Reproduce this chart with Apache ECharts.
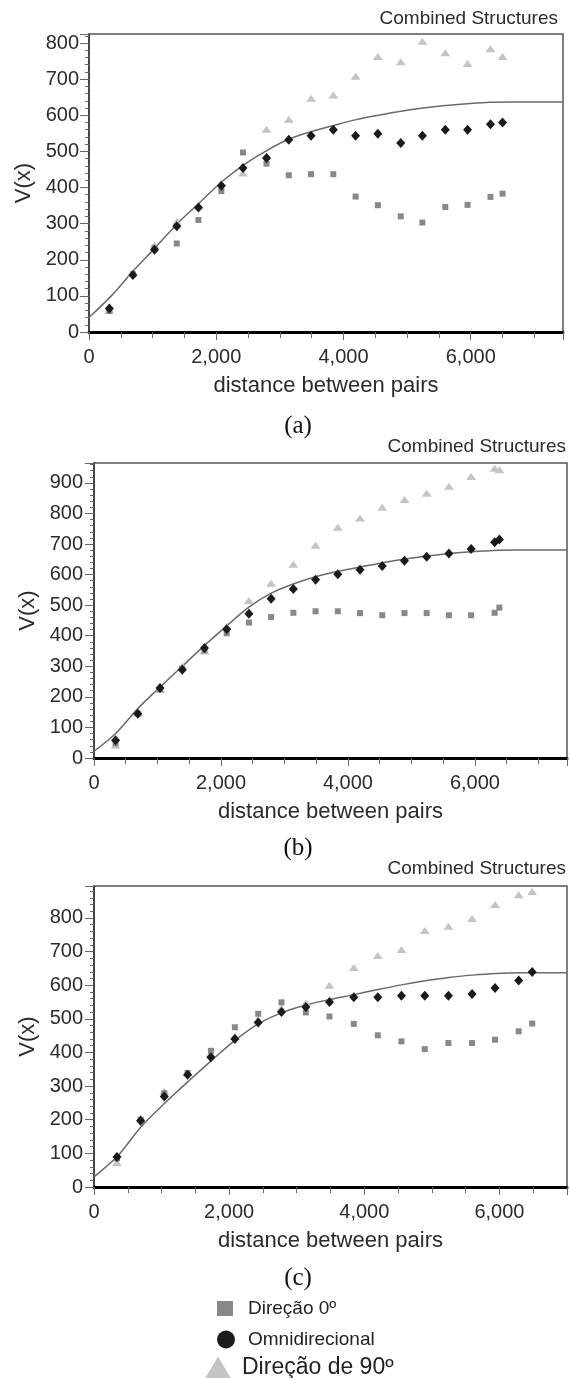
<!DOCTYPE html>
<html>
<head>
<meta charset="utf-8">
<title>Combined Structures</title>
<script src="https://cdn.jsdelivr.net/npm/echarts@6/dist/echarts.min.js"></script>
<style>
  html, body { margin: 0; padding: 0; background: #fff; }
  #chart { width: 570px; height: 1378px; }
</style>
</head>
<body>
<div id="chart"></div>
<script>
const lagsA = [320, 690, 1030, 1380, 1720, 2080, 2420, 2790, 3140, 3490, 3840, 4190, 4540, 4900, 5240, 5600, 5950, 6310, 6500]
const dir0A = [58, 160, 232, 245, 310, 390, 497, 466, 434, 437, 437, 375, 351, 320, 303, 346, 352, 374, 383]
const omniA = [65, 158, 228, 293, 345, 405, 454, 482, 532, 543, 560, 543, 549, 523, 543, 560, 560, 575, 580]
const dir90A = [60, 162, 240, 305, 348, 412, 440, 561, 589, 647, 656, 708, 763, 748, 805, 773, 743, 784, 763]
const modelXA = [0, 350, 700, 1050, 1400, 1750, 2100, 2450, 2800, 3150, 3500, 3850, 4200, 4550, 4900, 5250, 5600, 5950, 6300, 6650, 7450]
const modelA = [40, 100, 170, 235, 302, 360, 418, 465, 503, 535, 555, 572, 588, 600, 611, 620, 627, 632, 636, 637, 637]

// (b)
const lagsB = [340, 690, 1040, 1390, 1740, 2090, 2440, 2790, 3140, 3490, 3840, 4190, 4540, 4890, 5240, 5590, 5940, 6310, 6385]
const dir0B = [48, 145, 225, 292, 352, 408, 443, 461, 475, 480, 480, 474, 467, 474, 474, 467, 467, 475, 492]
const omniB = [58, 145, 229, 289, 360, 421, 472, 521, 553, 583, 601, 616, 628, 645, 658, 669, 684, 706, 715]
const dir90B = [42, 148, 224, 300, 350, 430, 515, 572, 634, 696, 755, 785, 820, 846, 866, 889, 921, 948, 943]
const modelXB = [0, 350, 700, 1050, 1400, 1750, 2100, 2450, 2800, 3150, 3500, 3850, 4200, 4550, 4900, 5250, 5600, 5950, 6300, 6650, 7450]
const modelB = [22, 82, 164, 234, 302, 370, 434, 495, 540, 570, 594, 611, 625, 639, 651, 661, 669, 675, 679, 680, 680]

// (c)
const lagsC = [340, 690, 1040, 1385, 1730, 2085, 2430, 2775, 3135, 3485, 3845, 4200, 4550, 4895, 5245, 5595, 5935, 6285, 6485]
const dir0C = [85, 200, 279, 339, 405, 475, 515, 549, 519, 507, 485, 451, 433, 410, 428, 428, 438, 463, 486]
const omniC = [89, 197, 269, 334, 386, 440, 489, 520, 535, 550, 564, 564, 569, 569, 569, 574, 592, 614, 639]
const dir90C = [72, 205, 285, 340, 395, 448, 497, 532, 547, 600, 653, 688, 706, 763, 775, 798, 840, 869, 879]
const modelXC = [0, 350, 700, 1050, 1400, 1750, 2100, 2450, 2800, 3150, 3500, 3850, 4200, 4550, 4900, 5250, 5600, 5950, 6300, 7000]
const modelC = [30, 92, 180, 250, 315, 378, 438, 487, 520, 542, 558, 572, 587, 601, 613, 623, 630, 635, 637, 637]

// legend / series names
const seriesNames = ['Direção 0º', 'Omnidirecional', 'Direção de 90º']

const zip = (xs, ys) => xs.map((x, i) => [x, ys[i]])

const panels = [
  { tag: '(a)', lags: lagsA, dir0: dir0A, omni: omniA, dir90: dir90A, modelX: modelXA, model: modelA, xMax: 7450, yMax: 825 },
  { tag: '(b)', lags: lagsB, dir0: dir0B, omni: omniB, dir90: dir90B, modelX: modelXB, model: modelB, xMax: 7450, yMax: 965 },
  { tag: '(c)', lags: lagsC, dir0: dir0C, omni: omniC, dir90: dir90C, modelX: modelXC, model: modelC, xMax: 7000, yMax: 895 }
]

// layout of each panel on the page
const layout = [
  { left: 89, top: 34, width: 474, height: 298, titleTop: 9, titleRight: 12, tagY: 426, yGap: 48, yMargin: 10 },
  { left: 94, top: 463, width: 474, height: 295, titleTop: 437, titleRight: 4, tagY: 848, yGap: 52, yMargin: 11 },
  { left: 94, top: 886, width: 474, height: 301, titleTop: 859, titleRight: 4, tagY: 1278, yGap: 52, yMargin: 11 }
]

const font = 'Liberation Sans'
const textColor = '#2b2b2b'

const grid = []
const xAxis = []
const yAxis = []
const series = []
const title = []
const graphic = []

panels.forEach((p, i) => {
  const l = layout[i]
  grid.push({
    left: l.left, top: l.top, width: l.width, height: l.height,
    show: true, backgroundColor: '#fff', borderColor: '#555', borderWidth: 1.5
  })

  // x: minor ticks every 500, labels every 2000
  xAxis.push({
    gridIndex: i, type: 'value', position: 'bottom', min: 0, max: p.xMax, interval: 500,
    name: 'distance between pairs', nameLocation: 'middle', nameGap: 43,
    nameTextStyle: { fontFamily: font, fontSize: 22, color: textColor },
    axisLine: { onZero: false, lineStyle: { color: '#000', width: 3 } },
    axisTick: { length: 6, lineStyle: { color: '#666', width: 1 } },
    axisLabel: {
      margin: 15, fontFamily: font, fontSize: 20, color: textColor,
      formatter: v => (v % 2000 === 0 ? v.toLocaleString('en-US') : '')
    },
    splitLine: { show: false }
  })
  xAxis.push({
    gridIndex: i, type: 'value', position: 'bottom', min: 0, max: p.xMax, interval: 2000,
    axisLine: { show: false, onZero: false },
    axisTick: { length: 8, lineStyle: { color: '#666', width: 1 } },
    axisLabel: { show: false },
    splitLine: { show: false }
  })

  // y: minor ticks every 20, labels every 100
  yAxis.push({
    gridIndex: i, type: 'value', position: 'left', min: 0, max: p.yMax, interval: 20,
    name: 'V(x)', nameLocation: 'middle', nameGap: l.yGap,
    nameTextStyle: { fontFamily: font, fontSize: 22, color: textColor },
    axisLine: { show: true, onZero: false, lineStyle: { color: '#333', width: 1.5 } },
    axisTick: { length: 4, lineStyle: { color: '#666', width: 1 } },
    axisLabel: {
      margin: l.yMargin, fontFamily: font, fontSize: 20, color: textColor,
      formatter: v => (v % 100 === 0 ? String(v) : '')
    },
    splitLine: { show: false }
  })
  yAxis.push({
    gridIndex: i, type: 'value', position: 'left', min: 0, max: p.yMax, interval: 100,
    axisLine: { show: false, onZero: false },
    axisTick: { length: 9, lineStyle: { color: '#666', width: 1 } },
    axisLabel: { show: false },
    splitLine: { show: false }
  })

  const xi = i * 2
  const yi = i * 2

  series.push({
    name: 'Modelo', type: 'line', xAxisIndex: xi, yAxisIndex: yi,
    data: zip(p.modelX, p.model), showSymbol: false, smooth: 0.3,
    lineStyle: { color: '#6a6a6a', width: 1.5 }, z: 1
  })
  series.push({
    name: seriesNames[2], type: 'scatter', xAxisIndex: xi, yAxisIndex: yi,
    data: zip(p.lags, p.dir90), symbol: 'triangle', symbolSize: [10, 7],
    itemStyle: { color: '#c4c4c4', opacity: 1 }, z: 2
  })
  series.push({
    name: seriesNames[0], type: 'scatter', xAxisIndex: xi, yAxisIndex: yi,
    data: zip(p.lags, p.dir0), symbol: 'rect', symbolSize: 6,
    itemStyle: { color: '#888888', opacity: 1 }, z: 3
  })
  series.push({
    name: seriesNames[1], type: 'scatter', xAxisIndex: xi, yAxisIndex: yi,
    data: zip(p.lags, p.omni), symbol: 'diamond', symbolSize: [9, 10],
    itemStyle: { color: '#1a1a1a', opacity: 1 }, z: 4
  })

  title.push({
    text: 'Combined Structures', right: l.titleRight, top: l.titleTop, padding: 0,
    textStyle: { fontFamily: font, fontSize: 19, fontWeight: 'normal', color: textColor }
  })

  graphic.push({
    type: 'text', x: 298, y: l.tagY,
    style: {
      text: p.tag, font: '25px "Liberation Serif"', fill: '#111',
      textAlign: 'center', align: 'center', textVerticalAlign: 'middle', verticalAlign: 'middle'
    }
  })
})

const legend = [
  { name: seriesNames[0], icon: 'rect', top: 1299, left: 217, w: 16, h: 15, size: 19, pad: 10 },
  { name: seriesNames[1], icon: 'circle', top: 1330, left: 217, w: 18, h: 18, size: 19, pad: 8 },
  { name: seriesNames[2], icon: 'triangle', top: 1356, left: 205, w: 26, h: 22, size: 23, pad: 6 }
].map(it => ({
  data: [{ name: it.name, icon: it.icon }],
  orient: 'vertical', left: it.left, top: it.top, padding: 0,
  itemWidth: it.w, itemHeight: it.h, selectedMode: false,
  textStyle: { fontFamily: font, fontSize: it.size, color: '#222', padding: [0, 0, 0, it.pad] }
}))

const chart = echarts.init(document.getElementById('chart'))
chart.setOption({
  animation: false,
  backgroundColor: '#fff',
  title,
  legend,
  grid,
  xAxis,
  yAxis,
  series,
  graphic
})
</script>
</body>
</html>
